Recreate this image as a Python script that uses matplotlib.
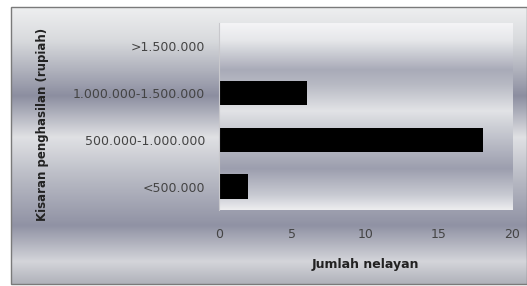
import numpy as np
import matplotlib
matplotlib.use("Agg")
import matplotlib.pyplot as plt
from matplotlib.colors import LinearSegmentedColormap
from matplotlib.patches import Rectangle

categories = ["<500.000", "500.000-1.000.000", "1.000.000-1.500.000", ">1.500.000"]
values = [2, 18, 6, 0]
xticks = [0, 5, 10, 15, 20]
xlabel = "Jumlah nelayan"
ylabel = "Kisaran penghasilan (rupiah)"

W, H = 527, 286
fig = plt.figure(figsize=(W / 100, H / 100), dpi=100)
fig.patch.set_facecolor("white")

# figure background gradient (metallic)
bg = fig.add_axes([0, 0, 1, 1], zorder=-10)
bg.set_xlim(0, W)
bg.set_ylim(H, 0)
bg.axis("off")
fig_stops = [(0.0, "#eeeff0"), (0.12, "#d8dadd"), (0.32, "#8c8ea0"), (0.47, "#e0e1e4"),
             (0.62, "#b8bac4"), (0.79, "#9092a4"), (0.92, "#d4d5da"), (1.0, "#b0b2ba")]
cmap_fig = LinearSegmentedColormap.from_list("figbg", fig_stops)
grad = np.linspace(0, 1, 256).reshape(-1, 1)
bg.imshow(grad, cmap=cmap_fig, aspect="auto", extent=[11, W, 284, 7], origin="upper")
bg.add_patch(Rectangle((11, 7), W - 11, 277, fill=False, edgecolor="#7a7a7a", linewidth=1.0))

# plot area
ax = fig.add_axes([219 / W, 1 - 210 / H, (512 - 219) / W, (210 - 23) / H])
y = np.arange(len(categories))
ax.set_xlim(0, 20)
ax.set_ylim(-0.5, len(categories) - 0.5)
plot_stops = [(0.0, "#f4f4f6"), (0.09, "#e6e7ea"), (0.25, "#a9abb8"), (0.33, "#b8bac4"),
              (0.47, "#e2e3e6"), (0.54, "#d0d2d8"), (0.78, "#9c9eae"), (0.92, "#c8cad2"),
              (1.0, "#ededef")]
cmap_plot = LinearSegmentedColormap.from_list("plotbg", plot_stops)
ax.imshow(grad, cmap=cmap_plot, aspect="auto",
          extent=[0, 20, -0.5, len(categories) - 0.5], origin="upper", zorder=0)
ax.barh(y, values, height=0.52, color="black", zorder=2)

for s in ["top", "right", "bottom"]:
    ax.spines[s].set_visible(False)
ax.spines["left"].set_color("#c8c8cc")
ax.spines["left"].set_linewidth(0.8)

ax.set_yticks(y)
ax.set_yticklabels(categories, fontsize=9, color="#444444")
ax.tick_params(axis="y", length=0, pad=10)
ax.set_xticks(xticks)
ax.set_xticklabels([str(t) for t in xticks], fontsize=9, color="#444444")
ax.tick_params(axis="x", length=0, pad=13)

ax.set_xlabel(xlabel, fontsize=9, fontweight="bold", color="#222222", labelpad=12)
fig.text(43 / W, 1 - 124 / H, ylabel, rotation=90, fontsize=8.5, fontweight="bold",
         color="#222222", ha="center", va="center")

fig.savefig("out.png", dpi=100)
